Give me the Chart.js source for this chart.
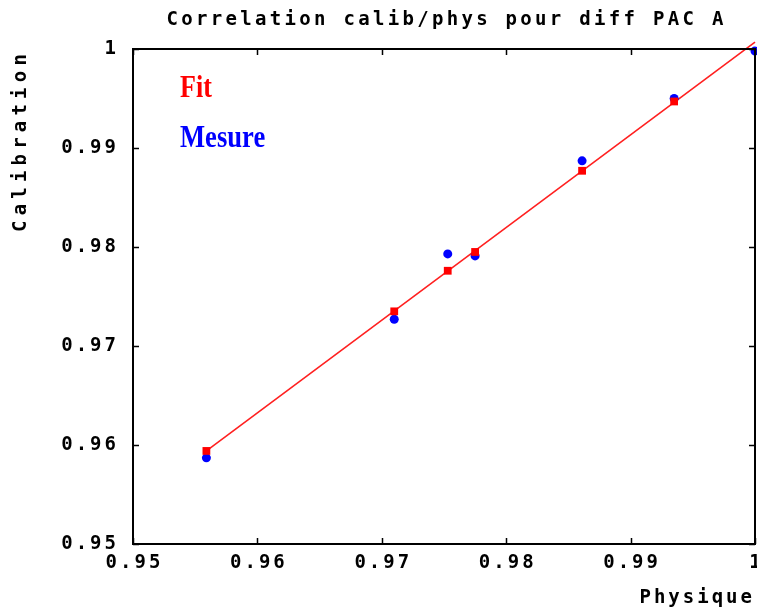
<!DOCTYPE html>
<html>
<head>
<meta charset="utf-8">
<script src="https://cdn.jsdelivr.net/npm/chart.js@4"></script>
<style>
html,body{margin:0;padding:0;background:#fff;}
#wrap{width:757px;height:609px;}
</style>
</head>
<body>
<div id="wrap"><canvas id="c" width="757" height="609"></canvas></div>
<script>
// ---- data ----
const chartTitle = "Correlation calib/phys pour diff PAC A";
const xTitle = "Physique";
const yTitle = "Calibration";
const legendLabels = ["Fit", "Mesure"];
const tickValues = [0.95, 0.96, 0.97, 0.98, 0.99, 1.0];
const tickLabels = ["0.95", "0.96", "0.97", "0.98", "0.99", "1"];

const mesureX = [0.9559, 0.9710, 0.9753, 0.9775, 0.9861, 0.9935, 1.0000];
const mesureY = [0.9587, 0.9727, 0.9793, 0.9791, 0.9887, 0.9950, 0.9998];

const fitX = [0.9559, 0.9710, 0.9753, 0.9775, 0.9861, 0.9935];
const fitY = [0.9594, 0.9735, 0.9776, 0.9795, 0.9877, 0.9947];

const lineX = [0.9559, 1.0000];
const lineY = [0.9594, 1.0007];

const toPts = (xs, ys) => xs.map((x, i) => ({x: x, y: ys[i]}));

const MONO = '"DejaVu Sans Mono", monospace';

function drawSpaced(ctx, text, x, y, spacing, align) {
  ctx.save();
  ctx.letterSpacing = spacing + 'px';
  const w = ctx.measureText(text).width - spacing;
  let sx = x;
  if (align === 'center') sx = x - w / 2;
  else if (align === 'right') sx = x - w;
  ctx.textAlign = 'left';
  ctx.fillText(text, sx, y);
  ctx.restore();
}

const decor = {
  id: 'decor',
  beforeDraw(chart) {
    chart.ctx.letterSpacing = '3px';
  },
  afterDatasetsDraw(chart) {
    const ctx = chart.ctx;
    const a = chart.chartArea;
    const xs = chart.scales.x, ys = chart.scales.y;
    ctx.save();
    ctx.strokeStyle = '#000';
    ctx.lineWidth = 2;
    ctx.strokeRect(a.left, a.top, a.right - a.left, a.bottom - a.top);
    ctx.lineWidth = 1.5;
    const tl = 6;
    tickValues.forEach(v => {
      const px = Math.round(xs.getPixelForValue(v)) + 0.5;
      ctx.beginPath();
      ctx.moveTo(px, a.bottom); ctx.lineTo(px, a.bottom - tl);
      ctx.moveTo(px, a.top); ctx.lineTo(px, a.top + tl);
      ctx.stroke();
      const py = Math.round(ys.getPixelForValue(v)) + 0.5;
      ctx.beginPath();
      ctx.moveTo(a.left, py); ctx.lineTo(a.left + tl, py);
      ctx.moveTo(a.right, py); ctx.lineTo(a.right - tl, py);
      ctx.stroke();
    });
    ctx.restore();
  },
  afterDraw(chart) {
    const ctx = chart.ctx;
    const a = chart.chartArea;
    const xs = chart.scales.x;
    ctx.save();
    ctx.fillStyle = '#000';
    ctx.textBaseline = 'middle';
    ctx.font = 'bold 19px ' + MONO;
    // x tick labels, positioned through the x scale
    tickValues.forEach((v, i) => {
      drawSpaced(ctx, tickLabels[i], xs.getPixelForValue(v), a.bottom + 19, 3, 'center');
    });
    drawSpaced(ctx, chartTitle, 445, 20, 3.3, 'center');
    drawSpaced(ctx, xTitle, 752, 598, 3, 'right');
    ctx.save();
    ctx.translate(21, 232);
    ctx.rotate(-Math.PI / 2);
    drawSpaced(ctx, yTitle, 0, 0, 5.2, 'left');
    ctx.restore();
    // legend
    ctx.font = 'bold 28px "Liberation Serif", "Times New Roman", serif';
    ctx.textBaseline = 'alphabetic';
    ctx.letterSpacing = '0px';
    ctx.save();
    ctx.translate(180, 97);
    ctx.scale(0.93, 1.15);
    ctx.fillStyle = '#ff0000';
    ctx.fillText(legendLabels[0], 0, 0);
    ctx.restore();
    ctx.save();
    ctx.translate(180, 147);
    ctx.scale(0.95, 1.15);
    ctx.fillStyle = '#0000ff';
    ctx.fillText(legendLabels[1], 0, 0);
    ctx.restore();
    ctx.restore();
  }
};

new Chart(document.getElementById('c'), {
  type: 'scatter',
  data: {
    datasets: [
      {
        label: legendLabels[0],
        data: toPts(fitX, fitY),
        backgroundColor: '#ff0000',
        borderColor: '#ff0000',
        pointStyle: 'rect',
        pointRadius: 5.5,
        pointBorderWidth: 0,
        order: 0,
        clip: false
      },
      {
        label: legendLabels[1],
        data: toPts(mesureX, mesureY),
        backgroundColor: '#0000ff',
        borderColor: '#0000ff',
        pointStyle: 'circle',
        pointRadius: 4.5,
        pointBorderWidth: 0,
        order: 1,
        clip: false
      },
      {
        type: 'line',
        label: 'fit line',
        data: toPts(lineX, lineY),
        borderColor: '#ff2020',
        borderWidth: 1.6,
        pointRadius: 0,
        fill: false,
        order: 2,
        clip: false
      }
    ]
  },
  options: {
    responsive: false,
    animation: false,
    events: [],
    layout: { autoPadding: false, padding: { top: 49, right: 2, left: 0, bottom: 0 } },
    plugins: {
      legend: { display: false },
      title: { display: false },
      tooltip: { enabled: false }
    },
    scales: {
      x: {
        type: 'linear',
        min: 0.95, max: 1.0,
        afterFit(s) { s.height = 65; },
        afterBuildTicks(s) { s.ticks = tickValues.map(v => ({value: v})); },
        grid: { display: false, drawTicks: false },
        border: { display: false },
        ticks: { display: false }
      },
      y: {
        type: 'linear',
        min: 0.95, max: 1.0,
        afterFit(s) { s.width = 133; },
        afterBuildTicks(s) { s.ticks = tickValues.map(v => ({value: v})); },
        grid: { display: false, drawTicks: false },
        border: { display: false },
        ticks: {
          padding: 14,
          color: '#000',
          font: { family: MONO, size: 19, weight: 'bold' },
          autoSkip: false,
          callback: (v) => tickLabels[tickValues.findIndex(t => Math.abs(t - v) < 1e-9)]
        }
      }
    }
  },
  plugins: [decor]
});
</script>
</body>
</html>
